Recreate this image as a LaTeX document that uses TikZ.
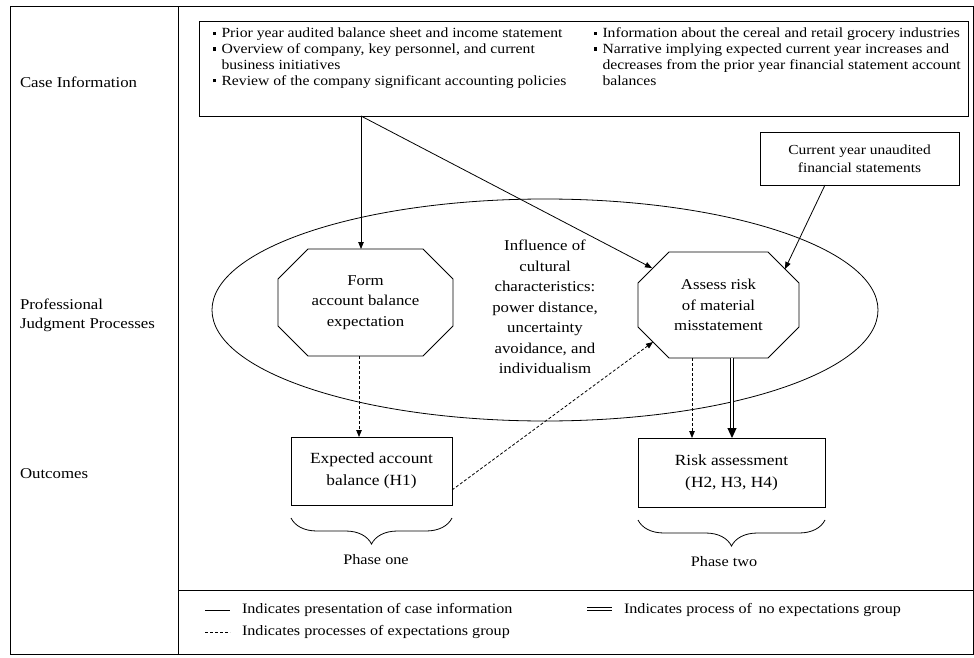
\documentclass[tikz,border=0pt]{standalone}
\usepackage{fontspec}
\setmainfont{Liberation Serif}[FakeStretch=1.12]
\usetikzlibrary{arrows.meta,calc,decorations.pathreplacing}
\newcommand{\octagonat}[2]{%
  \draw ([xshift=#2]#1.north west) -- ([xshift=-#2]#1.north east) -- ([yshift=-#2]#1.north east)
   -- ([yshift=#2]#1.south east) -- ([xshift=-#2]#1.south east) -- ([xshift=#2]#1.south west)
   -- ([yshift=#2]#1.south west) -- ([yshift=-#2]#1.north west) -- cycle;}
\newcommand{\bul}{\makebox[8.5pt][l]{\rule[2.8pt]{3.4pt}{3.4pt}}}
\newcommand{\ind}{\hspace*{8.5pt}}
\begin{document}
\begin{tikzpicture}[x=1pt,y=-1pt,
  line width=0.8pt,
  every node/.style={inner sep=0pt, outer sep=0pt},
  box/.style={draw, rectangle, align=center},
  ghost/.style={rectangle, align=center},
  arr/.style={-{Triangle[length=7pt,width=5.5pt]}},
  dasharr/.style={arr, dash pattern=on 3pt off 2pt},
  dblline/.style={double, double distance=1.6pt, line width=1.1pt},
  dbl/.style={dblline, -{Triangle[length=10pt,width=9pt]}},
  mainfont/.style={font=\fontsize{15}{20.5}\selectfont},
  casefont/.style={font=\fontsize{14}{15.8}\selectfont},
  smallfont/.style={font=\fontsize{13.8}{18}\selectfont},
  phasefont/.style={font=\fontsize{14.5}{18}\selectfont},
  legfont/.style={font=\fontsize{14.4}{16}\selectfont},
  brace/.style={decorate, decoration={brace, mirror, amplitude=26pt, aspect=0.5}},
]
\useasboundingbox (0,0) rectangle (974,658);

% frame
\draw[line width=1pt] (10,7) rectangle (973,654);
\draw[line width=1pt] (178,7) -- (178,654);
\draw[line width=1pt] (178,590) -- (973,590);

% row labels
\node[mainfont, anchor=west] (lcase) at (20,82) {Case Information};
\node[anchor=west, align=left, font=\fontsize{15}{19}\selectfont] (lprof) at (20,315) {Professional\\Judgment Processes};
\node[mainfont, anchor=west] (lout) at (20,474) {Outcomes};

% case information box
\node[draw, minimum width=769, minimum height=95] (case) at (583.5,68.5) {};
\node[casefont, anchor=north west, align=left] (caseL) at (213,28) {%
\bul Prior year audited balance sheet and income statement\\
\bul Overview of company, key personnel, and current\\
\ind business initiatives\\
\bul Review of the company significant accounting policies};
\node[casefont, anchor=north west, align=left] (caseR) at (594,28) {%
\bul Information about the cereal and retail grocery industries\\
\bul Narrative implying expected current year increases and\\
\ind decreases from the prior year financial statement account\\
\ind balances};
\coordinate (cb) at ($(case.south west)+(162,0)$);

% current year box
\node[box, smallfont, minimum width=199, minimum height=53] (cur) at (859.5,158.5) {Current year unaudited\\financial statements};

% ellipse
\draw (545,310) ellipse [x radius=333, y radius=111];

% octagons
\node[ghost, mainfont, minimum width=175, minimum height=107] (form) at (365.5,302.5) {Form\\account balance\\expectation};
\octagonat{form}{30}
\node[ghost, mainfont, minimum width=161, minimum height=106] (assess) at (718.5,305) {Assess risk\\of material\\misstatement};
\octagonat{assess}{31}

\node[ghost, mainfont] (culture) at (545,307) {Influence of\\cultural\\characteristics:\\power distance,\\uncertainty\\avoidance, and\\individualism};

% outcomes
\node[box, font=\fontsize{15.5}{22}\selectfont, minimum width=161, minimum height=68] (exp) at (371.5,471) {Expected account\\balance (H1)};
\node[box, font=\fontsize{15.5}{22}\selectfont, minimum width=187, minimum height=69] (risk) at (731.5,472.5) {Risk assessment\\(H2, H3, H4)};

% connectors
\draw[arr] (cb) -- (form.north -| cb);
\draw[arr] (cb) -- ($(assess.north west)+(14,16)$);
\draw[arr] ($(cur.south)+(-34.5,0)$) -- ($(assess.north east)+(-14,17)$);
\coordinate (fd) at ($(form.south)+(-6.5,0)$);
\draw[dasharr] (fd) -- (exp.north -| fd);
\draw[dasharr] ($(exp.east)+(0,19)$) -- ($(assess.south west)+(15,-16)$);
\coordinate (ad) at ($(assess.south)+(-26.5,0)$);
\draw[dasharr] (ad) -- (risk.north -| ad);
\coordinate (an) at ($(assess.south)+(13.5,0)$);
\draw[dbl] (an) -- (risk.north -| an);

% braces
\draw[brace] ($(exp.south west)+(0,13)$) -- ($(exp.south east)+(0,13)$);
\draw[brace] ($(risk.south west)+(0,13)$) -- ($(risk.south east)+(0,13)$);
\node[phasefont] (ph1) at (376,560) {Phase one};
\node[phasefont] (ph2) at (724,562) {Phase two};

% legend
\coordinate (s1a) at (205,610); \coordinate (s1b) at (230,610);
\coordinate (s2a) at (205,632); \coordinate (s2b) at (230,632);
\coordinate (s3a) at (587,609); \coordinate (s3b) at (612,609);
\draw (s1a) -- (s1b);
\draw[dash pattern=on 3pt off 2pt] (s2a) -- (s2b);
\draw[dblline] (s3a) -- (s3b);
\node[legfont, anchor=west] (leg1) at (242,610) {Indicates presentation of case information};
\node[legfont, anchor=west] (leg2) at (242,632) {Indicates processes of expectations group};
\node[legfont, anchor=west] (leg3) at (624,610) {Indicates process of\, no expectations group};
\end{tikzpicture}
\end{document}
